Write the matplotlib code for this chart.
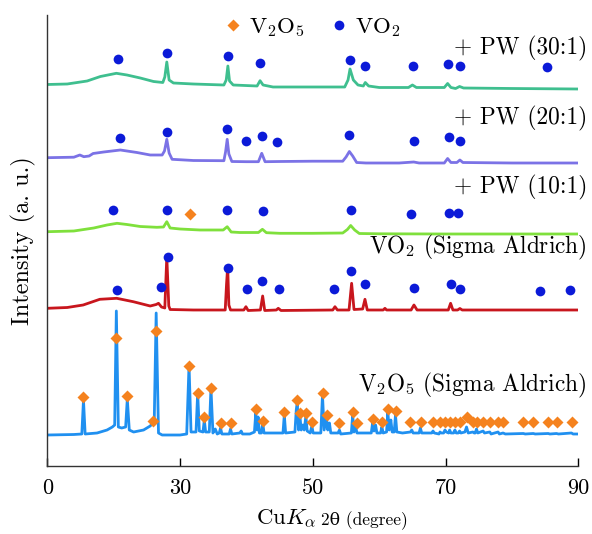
import matplotlib
matplotlib.use("Agg")
import matplotlib.pyplot as plt
from matplotlib.lines import Line2D
import matplotlib.transforms as mtransforms

plt.rcParams['font.family'] = ['cmr10', 'DejaVu Serif']
plt.rcParams['mathtext.fontset'] = 'cm'
plt.rcParams['axes.unicode_minus'] = False
plt.rcParams['axes.formatter.use_mathtext'] = True

# ---------------- data (2theta in degrees, intensity in a.u. above each baseline) -------------
tick_pos = [10, 30, 50, 70, 90]
tick_labels = ["0", "30", "50", "70", "90"]

trace_names = ["+ PW (30:1)", "+ PW (20:1)", "+ PW (10:1)",
               r"VO$_2$ (Sigma Aldrich)", r"V$_2$O$_5$ (Sigma Aldrich)"]

pw30_x = [10, 13, 16, 18, 20.4, 22, 24, 26, 27.4, 27.7, 28.0, 28.35, 29, 32, 36.6, 36.95, 37.2,
          37.45, 38, 41.6, 42.05, 42.5, 44, 50, 54.8, 55.3, 55.6, 56.1, 56.8, 57.6, 57.9, 58.4, 60,
          64.4, 65.0, 65.6, 69.8, 70.3, 70.8, 71.5, 72.1, 72.7, 80, 90]
pw30_y = [0.5, 1, 4, 8.5, 11.7, 10, 7, 3.5, 2.5, 8, 23, 5, 2, 1, 0, 5, 19,
          4, 0, -1, 4.3, 0, -2, -2, -2, 5, 16, 5, 0, -1, 2.5, -1, -2.5,
          -2.5, 0, -2.5, -2.5, 1.5, -2.5, -3.5, -1.5, -3, -3.5, -4]
pw30_circ_x = [20.7, 28.0, 37.2, 42.0, 55.6, 57.9, 65.1, 70.3, 72.15, 85.3]
pw30_circ_y = [25.7, 32.3, 29.0, 22.3, 25.5, 19.5, 19.5, 21.5, 19.5, 18.5]

pw20_x = [10, 14.0, 14.9, 15.5, 16.3, 16.9, 18.5, 21.0, 23.5, 25.5, 27.3, 27.65, 28.0, 28.35,
          28.8, 32, 36.6, 36.85, 37.1, 37.35, 37.8, 40, 41.8, 42.3, 42.8, 45, 50, 54.5, 55.0, 55.5,
          56.0, 56.6, 58, 63, 65.2, 66, 69.8, 70.3, 70.8, 71.7, 72.15, 72.6, 80, 90]
pw20_y = [2.3, 2.8, 5, 3.3, 4, 6.5, 8, 10, 7.5, 5, 5, 9, 20.7, 7, 0.7, -0.5, -0.7, 8, 20.7,
          6, -1.5, -1.7, -1.7, 6.7, -1.7, -1.5, -1.2, -1.2, 3, 8.5, 4, -2.5, -3, -3, -2, -3,
          -3, 1.5, -2.5, -2.5, 0, -2.5, -3, -3]
pw20_circ_x = [20.95, 28.07, 37.02, 39.92, 42.29, 44.55, 55.5, 65.23, 70.5, 72.15]
pw20_circ_y = [21.7, 28.3, 30.7, 19.3, 24.3, 18.3, 25.0, 19.0, 23.0, 19.0]

pw10_x = [10, 14, 17, 19, 20.5, 22, 24, 26.5, 27.5, 28.0, 28.5, 30, 33, 36.5, 37.1, 37.7, 39,
          41.8, 42.4, 43, 45, 50, 54.5, 55.2, 55.7, 56.3, 57, 60, 70, 80, 90]
pw10_y = [0.3, 1, 4, 7, 8.7, 7.5, 5.5, 4.7, 5, 10.3, 4, 3, 2, 2, 5.3, 0, -0.5, -0.5, 2.7, -0.7,
          -1.3, -1.3, -1, 2.5, 6.5, 2, -1.5, -1.8, -2, -2, -2]
pw10_circ_x = [19.94, 27.98, 37.02, 42.44, 55.74, 64.77, 70.5, 71.87]
pw10_circ_y = [22.0, 22.0, 22.0, 21.0, 22.0, 18.0, 19.0, 19.0]
pw10_diam_x = [31.49]
pw10_diam_y = [17.7]

vo2_x = [10, 13, 15.4, 17.9, 20.45, 22.95, 25.5, 26.4, 26.75, 27.2, 27.7, 28.0, 28.3, 28.5,
         32, 36.8, 37.0, 37.17, 37.35, 37.6, 39.6, 39.92, 40.25, 42.1, 42.44, 42.75, 44.5, 44.79,
         45.2, 53.0, 53.33, 53.7, 55.45, 55.84, 56.2, 57.5, 57.85, 58.2, 60.6, 60.86, 61.1, 64.8,
         65.23, 65.7, 70.4, 70.75, 71.1, 71.8, 72.15, 72.5, 80, 90]
vo2_y = [0.7, 1.5, 4, 9.7, 10.7, 7.3, 3, 4.5, 5.7, 2, 1, 52.3, 3, -0.5, -1, -1, 25, 42.3, 4,
         -1, -1, 2.3, -1.5, -1, 13, -1.5, -1, 0.7, -1.5, -1, 2.3, -1, -1, 25.7, -0.5, 0, 9.7,
         -1, -1, 0.7, -1, -1, 4, -1, -1, 5.7, -1, -1, 0.5, -1, -1, -1]
vo2_circ_x = [20.45, 27.08, 28.13, 37.17, 40.03, 42.29, 44.89, 53.18, 55.69, 57.85, 65.23,
              70.75, 72.15, 84.2, 88.72]
vo2_circ_y = [19.0, 21.7, 51.7, 40.7, 20.0, 27.7, 20.0, 19.7, 38.3, 24.7, 20.7, 25.0, 19.7,
              18.0, 19.0]

v2o5_x = [10.0, 14.0, 15.2, 15.45, 15.7, 17.5, 19.0, 19.8, 20.15, 20.4, 20.7, 21.2, 21.8,
          22.05, 22.35, 23.0, 24.5, 25.5, 25.75, 25.9, 26.1, 26.4, 26.75, 27.3, 30.0, 31.0,
          31.35, 31.65, 32.4, 32.65, 32.9, 33.45, 33.65, 33.85, 34.4, 34.65, 34.95, 35.3, 35.6,
          35.9, 36.1, 36.3, 37.4, 37.6, 37.8, 39.0, 39.2, 39.4, 40.5, 41.2, 41.4, 41.6, 41.75,
          41.95, 42.25, 42.45, 42.65, 44.5, 45.5, 45.7, 45.9, 47.3, 47.5, 47.65, 47.85, 48.05,
          48.25, 48.5, 48.7, 48.95, 49.15, 49.6, 49.85, 50.05, 51.2, 51.45, 51.7, 52.05, 52.25,
          52.5, 52.7, 53.8, 54.0, 54.2, 55.8, 56.0, 56.2, 56.45, 56.65, 58.8, 59.0, 59.2, 59.45,
          59.65, 60.2, 60.4, 60.6, 61.1, 61.3, 61.5, 61.75, 61.95, 62.25, 62.45, 62.65, 63.5,
          64.7, 64.9, 65.1, 66.0, 66.2, 66.4, 67.9, 68.1, 68.3, 69.0, 69.15, 69.35, 69.7, 69.9,
          70.1, 70.45, 70.6, 70.8, 71.2, 71.4, 71.6, 71.9, 72.1, 72.3, 72.9, 73.15, 73.4, 74.1,
          74.3, 74.45, 74.65, 74.85, 75.65, 75.85, 76.65, 76.85, 77.9, 78.1, 78.65, 79.0, 81.7,
          82.0, 83.2, 83.5, 85.45, 85.7, 86.7, 87.0, 88.95, 89.2, 90.2]
v2o5_y = [0, 0.5, 1, 35, 1, 2, 5, 8, 10, 124, 8, 7, 8,
          36, 5, 3, 5, 9, 11, 13, 11, 122, 2, 0, 0, 1,
          70, 3, 3, 42, 4, 3, 15, 3, 3, 47, 2, 6, 1,
          2, 7, 1, 1, 6, 1, 2, 4, 1, 1, 3, 22, 5, 18,
          2, 2, 12, 2, 2, 2, 20, 2, 3, 25, 33, 5, 19,
          5, 10, 5, 19, 4, 2, 9, 2, 2, 40, 5, 17, 5,
          12, 2, 2, 5, 1, 2, 20, 3, 8, 2, 2, 12, 4, 10,
          2, 2, 8, 2, 3, 23, 5, 15, 3, 3, 20, 3, 2,
          3, 5, 2, 2, 7, 2, 2, 4, 2, 1, 3, 2, 2, 5,
          3, 2, 5, 2, 2, 5, 2, 2, 4, 2, 3, 8, 2, 3,
          2, 2, 6, 2, 4, 2, 3, 1, 3, 1, 2, 1, 1.5,
          1, 1.5, 1, 1.5, 1, 1.5, 1, 2, 1, 1]
v2o5_diam_x = [15.42, 20.35, 22.05, 25.87, 26.42, 31.34, 32.65, 33.64, 34.65, 36.13, 37.67,
               41.43, 42.44, 45.69, 47.65, 48.06, 48.96, 49.86, 51.48, 52.08, 53.98, 56.0, 56.6,
               59.1, 60.36, 61.36, 62.47, 64.62, 66.23, 68.13, 69.14, 69.89, 70.64, 71.39, 72.14,
               73.16, 74.16, 74.67, 75.66, 76.67, 77.92, 78.67, 81.69, 83.19, 85.45, 86.72, 88.98]
v2o5_diam_y = [38, 97, 39, 14, 104, 69, 42, 18, 47, 12, 12,
               26, 14, 23, 35, 22, 22, 13, 42, 20, 12, 23, 12,
               16, 13, 26, 24, 13, 13, 13, 13, 13, 13, 13, 13,
               18, 13, 13, 13, 13, 13, 13, 13, 13, 13, 13, 13]

# ---------------- layout / style ----------------
offsets = [381, 306, 234, 157, 31]
label_y = [418, 348, 279, 219, 81]
colors = ['#3fbf8f', '#7b72e6', '#7fe03c', '#c8161d', '#2090f0']
circ_color = '#0b1ad8'
diam_color = '#f5821e'

fig = plt.figure(figsize=(5.92, 5.34), dpi=100)
ax = fig.add_axes([47.3 / 592, 1 - 466 / 534, 531.1 / 592, 451 / 534])

traces = [(pw30_x, pw30_y), (pw20_x, pw20_y), (pw10_x, pw10_y), (vo2_x, vo2_y), (v2o5_x, v2o5_y)]
circles = [(pw30_circ_x, pw30_circ_y), (pw20_circ_x, pw20_circ_y), (pw10_circ_x, pw10_circ_y),
           (vo2_circ_x, vo2_circ_y), None]
diamonds = [None, None, (pw10_diam_x, pw10_diam_y), None, (v2o5_diam_x, v2o5_diam_y)]

for i, (tx, ty) in enumerate(traces):
    off = offsets[i]
    ax.plot(tx, [v + off for v in ty], color=colors[i], lw=2.0, solid_joinstyle='round', zorder=2)
    if circles[i] is not None:
        cx, cy = circles[i]
        ax.plot(cx, [v + off for v in cy], 'o', color=circ_color, ms=7, mec='none', zorder=3)
    if diamonds[i] is not None:
        dx, dy = diamonds[i]
        ax.plot(dx, [v + off for v in dy], 'D', color=diam_color, ms=5.8, mec='none', zorder=3)

trans = mtransforms.blended_transform_factory(ax.transAxes, ax.transData)
for i, name in enumerate(trace_names):
    ax.text(1.016, label_y[i], name, transform=trans, ha='right', va='center', fontsize=16.8)

ax.set_xlim(10, 90)
ax.set_ylim(0, 451)
ax.set_xticks(tick_pos)
ax.set_xticklabels(tick_labels)
ax.set_yticks([])
ax.tick_params(axis='x', direction='in', length=6, width=1, labelsize=16, pad=9)
for s in ['top', 'right']:
    ax.spines[s].set_visible(False)
for s in ['left', 'bottom']:
    ax.spines[s].set_linewidth(1.0)
    ax.spines[s].set_color('#333333')

ax.set_ylabel("Intensity (a. u.)", fontsize=17.5, labelpad=8)

fig.text(316 / 592, 1 - 519 / 534, r"Cu$K_\alpha$", ha='right', va='center', fontsize=16.5)
fig.text(321 / 592, 1 - 521 / 534, "2θ (degree)", ha='left', va='center', fontsize=12.5)

handles = [Line2D([], [], marker='D', ls='none', color=diam_color, ms=5.8, mec='none'),
           Line2D([], [], marker='o', ls='none', color=circ_color, ms=7, mec='none')]
ax.legend(handles, [r"V$_2$O$_5$", r"VO$_2$"], loc='center', bbox_to_anchor=(0.4965, 0.973),
          ncol=2, frameon=False, fontsize=16.5, handletextpad=0.2, columnspacing=1.0,
          handlelength=1.0, borderaxespad=0, borderpad=0)

fig.savefig("out.png", dpi=100)
